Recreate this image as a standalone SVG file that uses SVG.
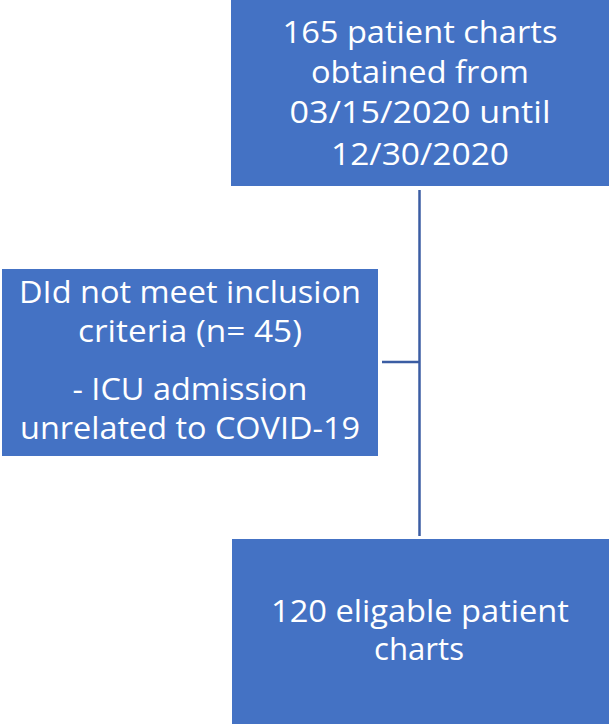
<svg xmlns="http://www.w3.org/2000/svg" width="609" height="724" viewBox="0 0 609 724">
<style>
.box{fill:#4472C4;}
.t{fill:#ffffff;font-family:"Open Sans","Noto Sans","Liberation Sans",sans-serif;font-size:31px;text-anchor:middle;}
.c{stroke:#3b5da3;stroke-width:2.5;fill:none;}
</style>
<rect width="609" height="724" fill="#ffffff"/>
<g id="connectors">
<line class="c" x1="419.5" y1="190" x2="419.5" y2="536"/>
<line class="c" x1="382" y1="362" x2="419.5" y2="362"/>
</g>
<g id="node-top">
<rect class="box" x="231" y="0" width="378" height="186"/>
<text class="t" x="420" y="43" textLength="275" lengthAdjust="spacingAndGlyphs">165 patient charts</text>
<text class="t" x="420" y="83" textLength="218" lengthAdjust="spacingAndGlyphs">obtained from</text>
<text class="t" x="420" y="123" textLength="261" lengthAdjust="spacingAndGlyphs">03/15/2020 until</text>
<text class="t" x="420" y="165" textLength="178" lengthAdjust="spacingAndGlyphs">12/30/2020</text>
</g>
<g id="node-excluded">
<rect class="box" x="2" y="269" width="376" height="187"/>
<text class="t" x="190" y="303" textLength="342" lengthAdjust="spacingAndGlyphs">DId not meet inclusion</text>
<text class="t" x="190" y="342" textLength="224" lengthAdjust="spacingAndGlyphs">criteria (n= 45)</text>
<text class="t" x="190" y="400" textLength="235" lengthAdjust="spacingAndGlyphs">- ICU admission</text>
<text class="t" x="190" y="439" textLength="340" lengthAdjust="spacingAndGlyphs">unrelated to COVID-19</text>
</g>
<g id="node-eligible">
<rect class="box" x="232" y="539" width="377" height="185"/>
<text class="t" x="420" y="622" textLength="298" lengthAdjust="spacingAndGlyphs">120 eligable patient</text>
<text class="t" x="419" y="660" textLength="90" lengthAdjust="spacingAndGlyphs">charts</text>
</g>
</svg>
